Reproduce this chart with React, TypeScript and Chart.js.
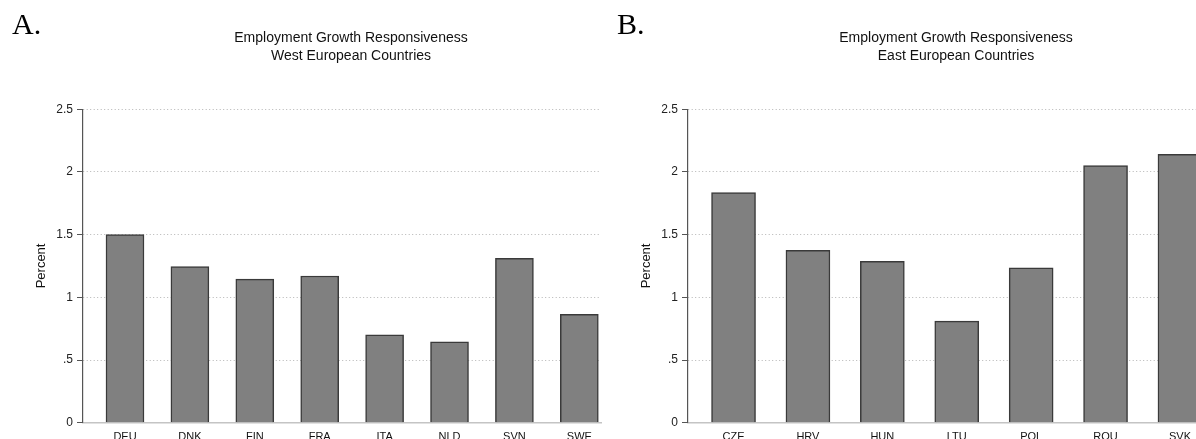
import React, { useEffect, useRef } from 'react';
import { Chart, registerables } from 'chart.js';

Chart.register(...registerables);

const westCategories = ['DEU', 'DNK', 'FIN', 'FRA', 'ITA', 'NLD', 'SVN', 'SWE'];
const westValues = [1.5, 1.245, 1.145, 1.17, 0.7, 0.645, 1.31, 0.865];

const eastCategories = ['CZE', 'HRV', 'HUN', 'LTU', 'POL', 'ROU', 'SVK'];
const eastValues = [1.835, 1.375, 1.287, 0.81, 1.235, 2.05, 2.14];

const yTickValues = [0, 0.5, 1, 1.5, 2, 2.5];
const yTickLabels = ['0', '.5', '1', '1.5', '2', '2.5'];

const titleLine = 'Employment Growth Responsiveness';
const westSubtitle = 'West European Countries';
const eastSubtitle = 'East European Countries';
const yAxisTitle = 'Percent';

const SANS = "'Liberation Sans', Arial, Helvetica, sans-serif";
const CANVAS_W = 700;
const CANVAS_H = 460;

type PanelProps = {
  categories: string[];
  values: number[];
  subtitle: string;
  xMin: number;
  xMax: number;
  barThickness: number;
  left: number;
};

function Panel({ categories, values, subtitle, xMin, xMax, barThickness, left }: PanelProps) {
  const ref = useRef<HTMLCanvasElement | null>(null);

  useEffect(() => {
    if (!ref.current) return;
    const chart = new Chart(ref.current, {
      type: 'bar',
      data: {
        datasets: [
          {
            data: categories.map((_, i) => ({ x: i, y: values[i] })),
            backgroundColor: '#808080',
            borderColor: '#3a3a3a',
            borderWidth: 1.5,
            barThickness,
            borderSkipped: 'bottom',
          } as any,
        ],
      },
      options: {
        responsive: false,
        animation: false,
        layout: { padding: { left: 31, right: 29, top: 0, bottom: 0 } },
        plugins: {
          legend: { display: false },
          tooltip: { enabled: false },
          title: {
            display: true,
            text: [titleLine, subtitle],
            color: '#111',
            font: { family: SANS, size: 14, weight: 'normal', lineHeight: 1.3 },
            padding: { top: 29, bottom: 43.8 },
          },
        },
        scales: {
          x: {
            type: 'linear',
            min: xMin,
            max: xMax,
            offset: false,
            grid: { display: false, drawTicks: false },
            border: { display: true, color: '#c4c4c4', width: 1.5 },
            ticks: {
              stepSize: 1,
              includeBounds: false,
              autoSkip: false,
              maxRotation: 0,
              minRotation: 0,
              padding: 8,
              color: '#111',
              font: { family: SANS, size: 11 },
              callback: (v: any) => {
                const i = Math.round(Number(v));
                return categories[i] ?? '';
              },
            },
            afterFit: (s: any) => {
              s.height = CANVAS_H - 422.7;
            },
          },
          y: {
            type: 'linear',
            min: 0,
            max: 2.5,
            ticks: {
              stepSize: 0.5,
              padding: 4,
              color: '#222',
              font: { family: SANS, size: 12 },
              callback: (v: any) => {
                const i = yTickValues.findIndex((t) => Math.abs(t - Number(v)) < 1e-9);
                return i >= 0 ? yTickLabels[i] : '';
              },
            },
            grid: {
              color: '#b4b4b4',
              lineWidth: 1,
              tickColor: '#555',
              tickLength: 6,
              tickWidth: 1,
            },
            border: { display: true, color: '#555', width: 1.2, dash: [1, 2.5] },
            title: {
              display: true,
              text: yAxisTitle,
              color: '#111',
              font: { family: SANS, size: 13 },
              padding: { top: 3, bottom: 0 },
            },
            afterFit: (s: any) => {
              s.width = 52;
            },
          },
          yPad: {
            type: 'linear',
            position: 'right',
            display: true,
            grid: { display: false, drawTicks: false },
            border: { display: false },
            ticks: { display: false },
            afterFit: (s: any) => {
              s.width = 70;
            },
          },
        },
      } as any,
    });
    return () => chart.destroy();
  }, []);

  return (
    <canvas
      ref={ref}
      width={CANVAS_W}
      height={CANVAS_H}
      style={{ position: 'absolute', left, top: 0, width: CANVAS_W, height: CANVAS_H }}
    />
  );
}

const letterStyle: React.CSSProperties = {
  position: 'absolute',
  top: 7,
  fontFamily: "'Liberation Serif', 'Times New Roman', serif",
  fontSize: 30,
  lineHeight: 'normal',
  color: '#000',
};

export default function App() {
  return (
    <div
      style={{
        position: 'absolute',
        left: 0,
        top: 0,
        width: 1196,
        height: 439,
        overflow: 'hidden',
        background: '#fff',
      }}
    >
      <Panel
        categories={westCategories}
        values={westValues}
        subtitle={westSubtitle}
        xMin={-0.647}
        xMax={7.334}
        barThickness={38}
        left={0}
      />
      <Panel
        categories={eastCategories}
        values={eastValues}
        subtitle={eastSubtitle}
        xMin={-0.612}
        xMax={6.35}
        barThickness={44}
        left={605.3}
      />
      <div style={{ ...letterStyle, left: 12 }}>A.</div>
      <div style={{ ...letterStyle, left: 617 }}>B.</div>
    </div>
  );
}
